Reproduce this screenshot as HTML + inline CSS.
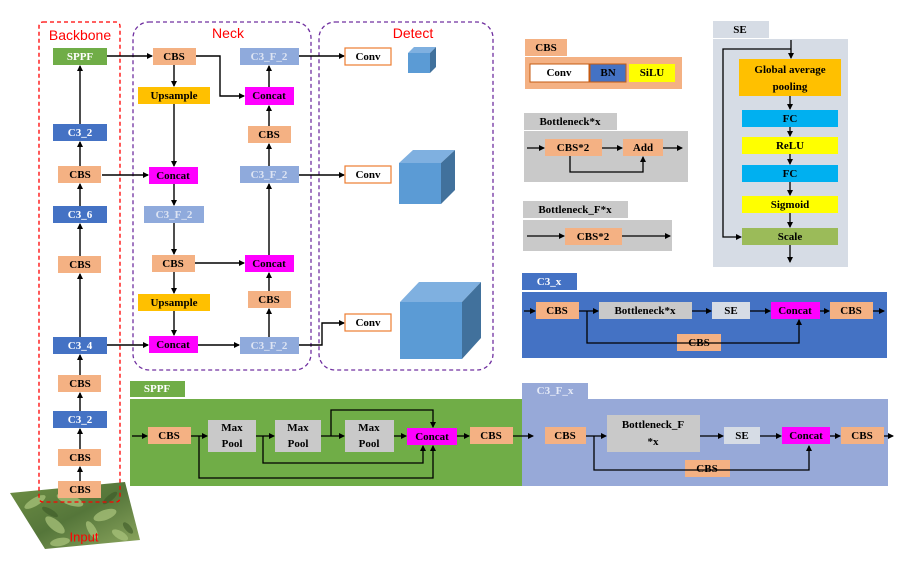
<!DOCTYPE html>
<html><head><meta charset="utf-8"><style>
html,body{margin:0;padding:0;background:#fff;}
svg{display:block;}
text{font-family:"Liberation Serif",serif;font-weight:bold;font-size:11px;text-anchor:middle;dominant-baseline:central;}
.lbl{font-family:"Liberation Sans",sans-serif;font-weight:normal;font-size:14px;fill:#f00;}
</style></head><body>
<svg width="900" height="566" viewBox="0 0 900 566" xmlns="http://www.w3.org/2000/svg">
<defs>
<marker id="a" markerWidth="6" markerHeight="6" refX="5" refY="3" orient="auto" markerUnits="userSpaceOnUse"><path d="M0,0 L6,3 L0,6 z" fill="#000"/></marker>
<linearGradient id="leaf" x1="0" y1="0" x2="1" y2="1"><stop offset="0" stop-color="#6f8f45"/><stop offset="0.5" stop-color="#55763a"/><stop offset="1" stop-color="#8ea860"/></linearGradient>
</defs>

<!-- input image -->
<polygon points="10,493 125,482 140,540 45,549" fill="url(#leaf)"/>
<g fill="#a8c27a" opacity="0.75">
<ellipse cx="35" cy="502" rx="12" ry="4" transform="rotate(-30 35 502)"/>
<ellipse cx="70" cy="500" rx="14" ry="5" transform="rotate(20 70 500)"/>
<ellipse cx="55" cy="525" rx="12" ry="5" transform="rotate(40 55 525)"/>
<ellipse cx="105" cy="515" rx="12" ry="5" transform="rotate(-20 105 515)"/>
<ellipse cx="60" cy="542" rx="10" ry="4" transform="rotate(-10 60 542)"/>
<ellipse cx="120" cy="535" rx="9" ry="4" transform="rotate(30 120 535)"/>
<ellipse cx="92" cy="530" rx="10" ry="4" transform="rotate(60 92 530)"/>
</g>
<g fill="#3d5a28" opacity="0.6">
<ellipse cx="50" cy="512" rx="9" ry="3" transform="rotate(30 50 512)"/>
<ellipse cx="110" cy="498" rx="9" ry="3" transform="rotate(-40 110 498)"/>
<ellipse cx="128" cy="528" rx="7" ry="3" transform="rotate(50 128 528)"/>
</g>
<text x="84" y="537" style="font-family:'Liberation Sans',sans-serif;font-weight:normal;font-size:13px;fill:#f00">Input</text>

<!-- group boxes -->
<rect x="39" y="22" width="81" height="480" fill="none" stroke="#f00" stroke-width="1.3" stroke-dasharray="4,3" rx="4"/>
<rect x="133" y="22" width="178" height="348" fill="none" stroke="#7030a0" stroke-width="1.3" stroke-dasharray="4,3" rx="16"/>
<rect x="319" y="22" width="174" height="348" fill="none" stroke="#7030a0" stroke-width="1.3" stroke-dasharray="4,3" rx="16"/>
<text x="80" y="35" class="lbl">Backbone</text>
<text x="228" y="33" class="lbl">Neck</text>
<text x="413" y="33" class="lbl">Detect</text>

<!-- connectors -->
<g stroke="#000" stroke-width="1.4" fill="none" marker-end="url(#a)">
<line x1="80" y1="481" x2="80" y2="467"/>
<line x1="80" y1="449" x2="80" y2="429"/>
<line x1="80" y1="411" x2="80" y2="393"/>
<line x1="80" y1="375" x2="80" y2="355"/>
<line x1="80" y1="337" x2="80" y2="274"/>
<line x1="80" y1="256" x2="80" y2="224"/>
<line x1="80" y1="206" x2="80" y2="184"/>
<line x1="80" y1="166" x2="80" y2="142"/>
<line x1="80" y1="124" x2="80" y2="66"/>
<line x1="107" y1="56" x2="152" y2="56"/>
<line x1="102" y1="175" x2="148" y2="175"/>
<line x1="107" y1="345" x2="148" y2="345"/>
<line x1="174" y1="65" x2="174" y2="86"/>
<line x1="174" y1="104" x2="174" y2="166"/>
<line x1="174" y1="184" x2="174" y2="205"/>
<line x1="174" y1="223" x2="174" y2="254"/>
<line x1="174" y1="272" x2="174" y2="293"/>
<line x1="174" y1="311" x2="174" y2="335"/>
<polyline points="196,56 220,56 220,96 244,96"/>
<line x1="195" y1="263" x2="244" y2="263"/>
<line x1="198" y1="345" x2="239" y2="345"/>
<line x1="269" y1="337" x2="269" y2="309"/>
<line x1="269" y1="291" x2="269" y2="273"/>
<line x1="269" y1="255" x2="269" y2="184"/>
<line x1="269" y1="166" x2="269" y2="144"/>
<line x1="269" y1="126" x2="269" y2="106"/>
<line x1="269" y1="87" x2="269" y2="66"/>
<line x1="299" y1="56" x2="344" y2="56"/>
<line x1="299" y1="175" x2="344" y2="175"/>
<polyline points="299,345 322,345 322,323 344,323"/>
</g>

<!-- backbone nodes -->
<g>
<rect x="53" y="48" width="54" height="17" fill="#70ad47"/><text x="80" y="57" fill="#fff">SPPF</text>
<rect x="53" y="124" width="54" height="17" fill="#4472c4"/><text x="80" y="133" fill="#fff">C3_2</text>
<rect x="58" y="166" width="43" height="17" fill="#f4b183"/><text x="80" y="175">CBS</text>
<rect x="53" y="206" width="54" height="17" fill="#4472c4"/><text x="80" y="215" fill="#fff">C3_6</text>
<rect x="58" y="256" width="43" height="17" fill="#f4b183"/><text x="80" y="265">CBS</text>
<rect x="53" y="337" width="54" height="17" fill="#4472c4"/><text x="80" y="346" fill="#fff">C3_4</text>
<rect x="58" y="375" width="43" height="17" fill="#f4b183"/><text x="80" y="384">CBS</text>
<rect x="53" y="411" width="54" height="17" fill="#4472c4"/><text x="80" y="420" fill="#fff">C3_2</text>
<rect x="58" y="449" width="43" height="17" fill="#f4b183"/><text x="80" y="458">CBS</text>
<rect x="58" y="481" width="43" height="17" fill="#f4b183"/><text x="80" y="490">CBS</text>
</g>

<!-- neck nodes -->
<g>
<rect x="153" y="48" width="43" height="17" fill="#f4b183"/><text x="174" y="57">CBS</text>
<rect x="138" y="87" width="72" height="17" fill="#ffc000"/><text x="174" y="96">Upsample</text>
<rect x="240" y="48" width="59" height="17" fill="#8faadc"/><text x="269" y="57" fill="#dde4f3">C3_F_2</text>
<rect x="245" y="87" width="49" height="18" fill="#ff00ff"/><text x="269" y="96">Concat</text>
<rect x="248" y="126" width="43" height="17" fill="#f4b183"/><text x="269" y="135">CBS</text>
<rect x="149" y="167" width="49" height="17" fill="#ff00ff"/><text x="173" y="176">Concat</text>
<rect x="240" y="166" width="59" height="17" fill="#8faadc"/><text x="269" y="175" fill="#dde4f3">C3_F_2</text>
<rect x="144" y="206" width="60" height="17" fill="#8faadc"/><text x="174" y="215" fill="#dde4f3">C3_F_2</text>
<rect x="152" y="255" width="43" height="17" fill="#f4b183"/><text x="173" y="264">CBS</text>
<rect x="245" y="255" width="49" height="17" fill="#ff00ff"/><text x="269" y="264">Concat</text>
<rect x="138" y="294" width="72" height="17" fill="#ffc000"/><text x="174" y="303">Upsample</text>
<rect x="248" y="291" width="43" height="17" fill="#f4b183"/><text x="269" y="300">CBS</text>
<rect x="149" y="336" width="49" height="17" fill="#ff00ff"/><text x="173" y="345">Concat</text>
<rect x="240" y="337" width="59" height="17" fill="#8faadc"/><text x="269" y="346" fill="#dde4f3">C3_F_2</text>
</g>

<!-- detect -->
<g>
<rect x="345" y="48" width="46" height="17" fill="#fff" stroke="#ed7d31" stroke-width="1.2"/><text x="368" y="57">Conv</text>
<rect x="345" y="166" width="46" height="17" fill="#fff" stroke="#ed7d31" stroke-width="1.2"/><text x="368" y="175">Conv</text>
<rect x="345" y="314" width="46" height="17" fill="#fff" stroke="#ed7d31" stroke-width="1.2"/><text x="368" y="323">Conv</text>
<polygon points="408,53 430,53 430,73 408,73" fill="#5b9bd5"/>
<polygon points="408,53 414,47 436,47 430,53" fill="#7fb0e0"/>
<polygon points="430,53 436,47 436,67 430,73" fill="#41719c"/>
<polygon points="399,163 441,163 441,204 399,204" fill="#5b9bd5"/>
<polygon points="399,163 413,150 455,150 441,163" fill="#7fb0e0"/>
<polygon points="441,163 455,150 455,190 441,204" fill="#41719c"/>
<polygon points="400,302 462,302 462,359 400,359" fill="#5b9bd5"/>
<polygon points="400,302 419,282 481,282 462,302" fill="#7fb0e0"/>
<polygon points="462,302 481,282 481,338 462,359" fill="#41719c"/>
</g>

<!-- CBS legend -->
<rect x="525" y="39" width="42" height="17" fill="#f4b183"/><text x="546" y="48">CBS</text>
<rect x="525" y="57" width="157" height="32" fill="#f4b183"/>
<rect x="530" y="64" width="59" height="18" fill="#fff" stroke="#c55a11" stroke-width="1"/><text x="559" y="73">Conv</text>
<rect x="590" y="64" width="36" height="18" fill="#4472c4" stroke="#c55a11" stroke-width="1"/><text x="608" y="73">BN</text>
<rect x="629" y="64" width="46" height="18" fill="#ffff00"/><text x="652" y="73">SiLU</text>

<rect x="524" y="113" width="93" height="17" fill="#c9c9c9"/><text x="570" y="122">Bottleneck*x</text>
<rect x="524" y="131" width="164" height="51" fill="#c9c9c9"/>
<rect x="545" y="139" width="57" height="17" fill="#f4b183"/><text x="573" y="148">CBS*2</text>
<rect x="623" y="139" width="40" height="17" fill="#f4b183"/><text x="643" y="148">Add</text>
<rect x="523" y="201" width="105" height="17" fill="#c9c9c9"/><text x="575" y="210">Bottleneck_F*x</text>
<rect x="523" y="220" width="149" height="31" fill="#c9c9c9"/>
<rect x="565" y="228" width="57" height="17" fill="#f4b183"/><text x="593" y="237">CBS*2</text>

<rect x="713" y="21" width="56" height="17" fill="#d6dce5"/><text x="740" y="30">SE</text>
<rect x="713" y="39" width="135" height="228" fill="#d6dce5"/>
<rect x="739" y="59" width="102" height="37" fill="#ffc000"/><text x="790" y="70">Global average</text><text x="790" y="87">pooling</text>
<rect x="742" y="110" width="96" height="17" fill="#00b0f0"/><text x="790" y="119">FC</text>
<rect x="742" y="137" width="96" height="17" fill="#ffff00"/><text x="790" y="146">ReLU</text>
<rect x="742" y="165" width="96" height="17" fill="#00b0f0"/><text x="790" y="174">FC</text>
<rect x="742" y="196" width="96" height="17" fill="#ffff00"/><text x="790" y="205">Sigmoid</text>
<rect x="742" y="228" width="96" height="17" fill="#9bbb59"/><text x="790" y="237">Scale</text>

<rect x="522" y="273" width="55" height="17" fill="#4472c4"/><text x="549" y="282" fill="#fff">C3_x</text>
<rect x="522" y="292" width="365" height="66" fill="#4472c4"/>
<rect x="536" y="302" width="43" height="17" fill="#f4b183"/><text x="557" y="311">CBS</text>
<rect x="599" y="302" width="93" height="17" fill="#c9c9c9"/><text x="645" y="311">Bottleneck*x</text>
<rect x="712" y="302" width="38" height="17" fill="#d6dce5"/><text x="731" y="311">SE</text>
<rect x="771" y="302" width="49" height="17" fill="#ff00ff"/><text x="795" y="311">Concat</text>
<rect x="830" y="302" width="43" height="17" fill="#f4b183"/><text x="851" y="311">CBS</text>
<rect x="677" y="334" width="44" height="17" fill="#f4b183"/><text x="699" y="343">CBS</text>

<rect x="130" y="381" width="55" height="16" fill="#70ad47"/><text x="157" y="389" fill="#fff">SPPF</text>
<rect x="130" y="399" width="392" height="87" fill="#70ad47"/>
<rect x="148" y="427" width="43" height="17" fill="#f4b183"/><text x="169" y="436">CBS</text>
<rect x="208" y="420" width="48" height="32" fill="#c9c9c9"/><text x="232" y="428">Max</text><text x="232" y="444">Pool</text>
<rect x="275" y="420" width="46" height="32" fill="#c9c9c9"/><text x="298" y="428">Max</text><text x="298" y="444">Pool</text>
<rect x="345" y="420" width="49" height="32" fill="#c9c9c9"/><text x="369" y="428">Max</text><text x="369" y="444">Pool</text>
<rect x="407" y="428" width="50" height="17" fill="#ff00ff"/><text x="432" y="437">Concat</text>
<rect x="470" y="427" width="43" height="17" fill="#f4b183"/><text x="491" y="436">CBS</text>

<rect x="522" y="383" width="66" height="16" fill="#97a9d8"/><text x="555" y="391" fill="#e6ebf7">C3_F_x</text>
<rect x="522" y="399" width="366" height="87" fill="#97a9d8"/>
<rect x="545" y="427" width="41" height="17" fill="#f4b183"/><text x="565" y="436">CBS</text>
<rect x="607" y="415" width="93" height="37" fill="#c9c9c9"/><text x="653" y="425">Bottleneck_F</text><text x="653" y="442">*x</text>
<rect x="724" y="427" width="36" height="17" fill="#d6dce5"/><text x="742" y="436">SE</text>
<rect x="782" y="427" width="48" height="17" fill="#ff00ff"/><text x="806" y="436">Concat</text>
<rect x="841" y="427" width="43" height="17" fill="#f4b183"/><text x="862" y="436">CBS</text>
<rect x="685" y="460" width="45" height="17" fill="#f4b183"/><text x="707" y="469">CBS</text>

<g stroke="#000" stroke-width="1.3" fill="none" marker-end="url(#a)">
<line x1="527" y1="148" x2="544" y2="148"/>
<line x1="602" y1="148" x2="622" y2="148"/>
<line x1="663" y1="148" x2="682" y2="148"/>
<polyline points="570,156 570,172 643,172 643,157"/>
<line x1="527" y1="236" x2="564" y2="236"/>
<line x1="622" y1="236" x2="670" y2="236"/>
<line x1="791" y1="40" x2="791" y2="58"/>
<polyline points="791,49 723,49 723,237 741,237"/>
<line x1="790" y1="96" x2="790" y2="109"/>
<line x1="790" y1="127" x2="790" y2="136"/>
<line x1="790" y1="154" x2="790" y2="164"/>
<line x1="790" y1="182" x2="790" y2="195"/>
<line x1="790" y1="213" x2="790" y2="227"/>
<line x1="790" y1="245" x2="790" y2="262"/>
<line x1="524" y1="311" x2="535" y2="311"/>
<line x1="579" y1="311" x2="598" y2="311"/>
<line x1="692" y1="311" x2="711" y2="311"/>
<line x1="750" y1="311" x2="770" y2="311"/>
<line x1="820" y1="311" x2="829" y2="311"/>
<line x1="873" y1="311" x2="884" y2="311"/>
<polyline points="587,311 587,343 799,343 799,320"/>
<line x1="132" y1="436" x2="147" y2="436"/>
<line x1="191" y1="436" x2="207" y2="436"/>
<line x1="256" y1="436" x2="274" y2="436"/>
<line x1="321" y1="436" x2="344" y2="436"/>
<line x1="394" y1="436" x2="406" y2="436"/>
<line x1="457" y1="436" x2="469" y2="436"/>
<line x1="513" y1="436" x2="533" y2="436"/>
<polyline points="199,436 199,478 433,478 433,446"/>
<polyline points="263,436 263,463 423,463 423,446"/>
<polyline points="331,436 331,410 433,410 433,427"/>
<line x1="586" y1="436" x2="606" y2="436"/>
<line x1="700" y1="436" x2="723" y2="436"/>
<line x1="760" y1="436" x2="781" y2="436"/>
<line x1="830" y1="436" x2="840" y2="436"/>
<line x1="884" y1="436" x2="893" y2="436"/>
<polyline points="594,436 594,470 809,470 809,446"/>
</g>
</svg>
</body></html>
